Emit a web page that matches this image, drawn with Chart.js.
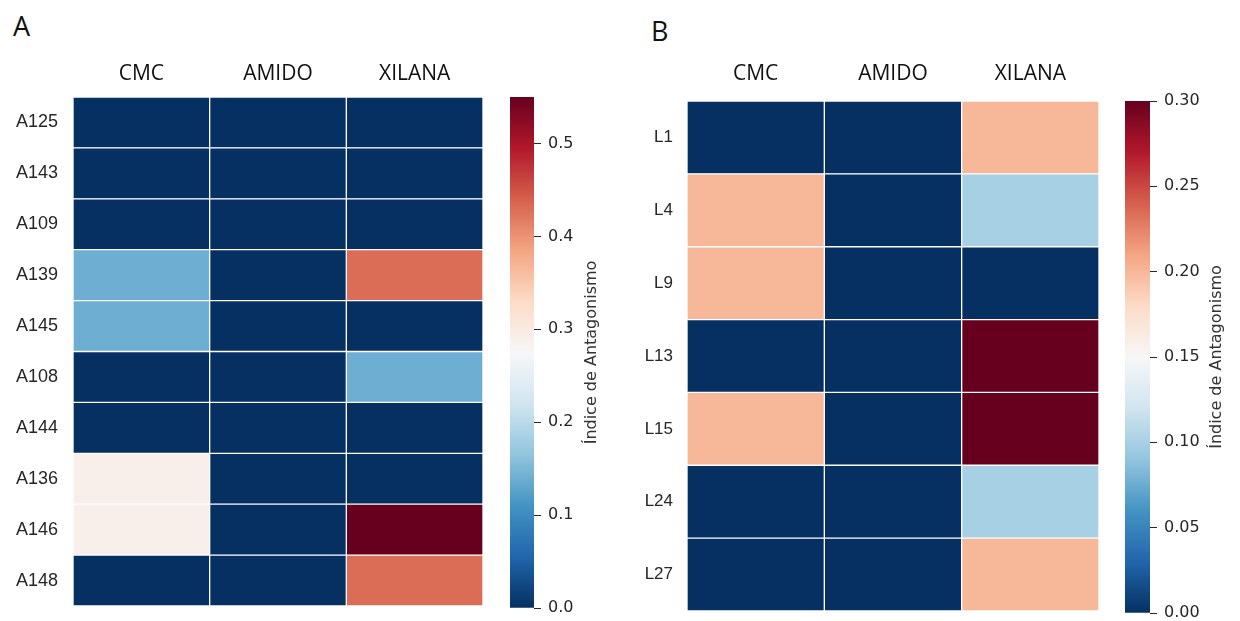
<!DOCTYPE html>
<html>
<head>
<meta charset="utf-8">
<script src="https://cdn.jsdelivr.net/npm/chart.js@4"></script>
<style>
  body { margin: 0; background: #fff; }
  #page { position: relative; width: 1240px; height: 621px; overflow: hidden; }
  .box { position: absolute; }
  .letter { position: absolute; font-family: "Open Sans", sans-serif; font-size: 27px; color: #111; }
</style>
</head>
<body>
<div id="page">
  <div class="letter" style="left:13px; top:7px;">A</div>
  <div class="letter" style="left:651px; top:12px;">B</div>
  <div class="box" style="left:0; top:0; width:500px; height:621px;"><canvas id="heatA"></canvas></div>
  <div class="box" style="left:500px; top:0; width:120px; height:621px;"><canvas id="barA"></canvas></div>
  <div class="box" style="left:620px; top:0; width:495px; height:621px;"><canvas id="heatB"></canvas></div>
  <div class="box" style="left:1115px; top:0; width:125px; height:621px;"><canvas id="barB"></canvas></div>
</div>
<script>
// data
const cols = ["CMC", "AMIDO", "XILANA"];

const rowsA = ["A125", "A143", "A109", "A139", "A145", "A108", "A144", "A136", "A146", "A148"];
const cmcA = [0, 0, 0, 0.14, 0.14, 0, 0, 0.29, 0.29, 0];
const amidoA = [0, 0, 0, 0, 0, 0, 0, 0, 0, 0];
const xilanaA = [0, 0, 0, 0.43, 0, 0.14, 0, 0, 0.55, 0.43];
const vmaxA = 0.55;
const ticksA = [0, 0.1, 0.2, 0.3, 0.4, 0.5];

const rowsB = ["L1", "L4", "L9", "L13", "L15", "L24", "L27"];
const cmcB = [0, 0.2, 0.2, 0, 0.2, 0, 0];
const amidoB = [0, 0, 0, 0, 0, 0, 0];
const xilanaB = [0.2, 0.1, 0, 0.3, 0.3, 0.1, 0.2];
const vmaxB = 0.3;
const ticksB = [0, 0.05, 0.1, 0.15, 0.2, 0.25, 0.3];

const cbarTitle = "Índice de Antagonismo";

// RdBu_r
const rdbu = ["#053061", "#2166ac", "#4393c3", "#92c5de", "#d1e5f0", "#f7f7f7",
              "#fddbc7", "#f4a582", "#d6604d", "#b2182b", "#67001f"];

function hexRgb(h) {
    return [parseInt(h.slice(1, 3), 16), parseInt(h.slice(3, 5), 16), parseInt(h.slice(5, 7), 16)];
}

function cmap(t) {
    t = Math.max(0, Math.min(1, t));
    const p = t * 10;
    const i = Math.min(9, Math.floor(p));
    const f = p - i;
    const a = hexRgb(rdbu[i]), b = hexRgb(rdbu[i + 1]);
    const c = a.map((v, k) => Math.round(v + (b[k] - v) * f));
    return "rgb(" + c.join(",") + ")";
}

const textColor = "#262626";

function heatmap(id, rows, series, vmax, o) {
    new Chart(document.getElementById(id), {
        type: "bar",
        data: {
            labels: rows,
            datasets: series.map((vals, j) => ({
                label: cols[j],
                data: rows.map(() => 1),
                backgroundColor: c => cmap(vals[c.dataIndex] / vmax),
                borderColor: "#ffffff",
                borderWidth: 1,
                borderSkipped: false,
                barPercentage: 1,
                categoryPercentage: 1
            }))
        },
        options: {
            indexAxis: "y",
            responsive: true,
            maintainAspectRatio: false,
            animation: false,
            layout: { padding: { right: o.right, bottom: o.bottom } },
            plugins: { legend: { display: false }, tooltip: { enabled: false } },
            scales: {
                x: { stacked: true, min: 0, max: 3, display: false },
                xTop: {
                    type: "category",
                    axis: "x",
                    position: "top",
                    labels: cols,
                    offset: true,
                    grid: { display: false, drawTicks: false },
                    border: { display: false },
                    ticks: { color: "#111", font: { family: "Open Sans", size: 21 }, padding: o.topPad },
                    afterFit: s => { s.height = o.top; s.paddingLeft = 0; s.paddingRight = 0; }
                },
                y: {
                    stacked: true,
                    grid: { display: false, drawTicks: false },
                    border: { display: false },
                    ticks: { color: textColor, font: { family: "Liberation Sans", size: o.rowSize }, padding: o.rowPad },
                    afterFit: s => { s.width = o.left; s.paddingTop = 0; s.paddingBottom = 0; }
                }
            }
        }
    });
}

function colorbar(id, vmax, ticks, digits, o) {
    new Chart(document.getElementById(id), {
        type: "bar",
        data: {
            labels: ["cbar"],
            datasets: [{
                data: [[0, vmax]],
                backgroundColor: c => {
                    const area = c.chart.chartArea;
                    if (!area) return rdbu[0];
                    const g = c.chart.ctx.createLinearGradient(0, area.bottom, 0, area.top);
                    rdbu.forEach((col, i) => g.addColorStop(i / 10, col));
                    return g;
                },
                borderWidth: 0,
                barPercentage: 1,
                categoryPercentage: 1
            }]
        },
        options: {
            responsive: true,
            maintainAspectRatio: false,
            animation: false,
            layout: { padding: { left: 10, top: o.top, bottom: o.bottom } },
            plugins: { legend: { display: false }, tooltip: { enabled: false } },
            scales: {
                x: { display: false },
                y: {
                    position: "right",
                    min: 0,
                    max: vmax,
                    afterBuildTicks: s => { s.ticks = ticks.map(v => ({ value: v })); },
                    grid: { drawOnChartArea: false, drawTicks: true, tickLength: 7, color: textColor, lineWidth: 1 },
                    border: { display: false },
                    ticks: {
                        color: textColor,
                        padding: 7,
                        font: { family: "DejaVu Sans", size: 16 },
                        callback: v => Number(v).toFixed(digits)
                    },
                    afterFit: s => { s.width = o.axisW; s.paddingTop = 0; s.paddingBottom = 0; }
                }
            }
        },
        plugins: [{
            id: "cbarTitle",
            afterDraw(chart) {
                const ctx = chart.ctx, a = chart.chartArea;
                ctx.save();
                ctx.translate(o.titleX, (a.top + a.bottom) / 2);
                ctx.rotate(-Math.PI / 2);
                ctx.fillStyle = "#333";
                ctx.font = "16px 'DejaVu Sans'";
                ctx.textAlign = "center";
                ctx.textBaseline = "middle";
                ctx.fillText(cbarTitle, 0, 0);
                ctx.restore();
            }
        }]
    });
}

heatmap("heatA", rowsA, [cmcA, amidoA, xilanaA], vmaxA,
    { left: 73, top: 97, right: 17, bottom: 15, rowSize: 18, rowPad: 15, topPad: 10 });
colorbar("barA", vmaxA, ticksA, 1, { top: 97, bottom: 13, axisW: 86, titleX: 92 });

heatmap("heatB", rowsB, [cmcB, amidoB, xilanaB], vmaxB,
    { left: 67, top: 101, right: 16, bottom: 10, rowSize: 17, rowPad: 14, topPad: 14 });
colorbar("barB", vmaxB, ticksB, 2, { top: 101, bottom: 8, axisW: 90, titleX: 102 });
</script>
</body>
</html>
